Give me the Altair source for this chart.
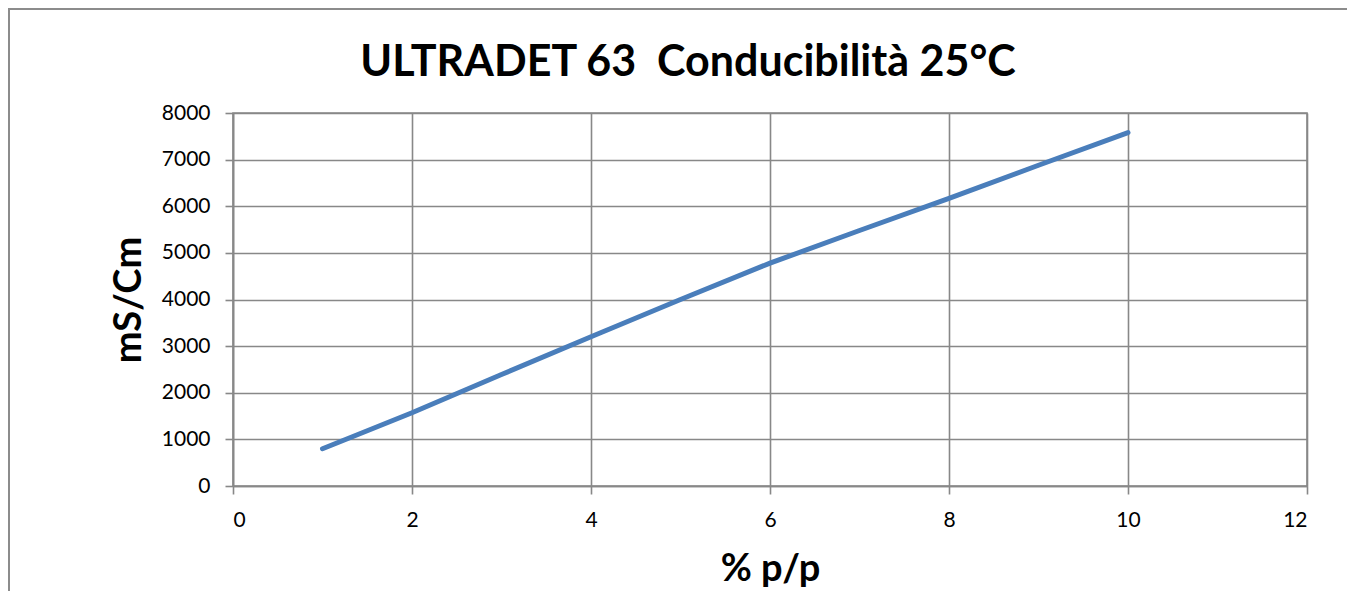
import altair as alt
import pandas as pd

concentration = [1, 2, 3, 4, 5, 6, 7, 8, 9, 10]
conductivity = [800, 1570, 2390, 3200, 4000, 4780, 5480, 6170, 6880, 7580]

title_text = "ULTRADET 63\u00a0 Conducibilità 25°C"
x_title = "% p/p"
y_title = "mS/Cm"

df = pd.DataFrame({"x": concentration, "y": conductivity})

FONT = "Lato"
GRID = "#888888"

line = alt.Chart(df).mark_line(color="#4a7ebb", strokeWidth=5, strokeCap="round").encode(
    x=alt.X("x:Q", scale=alt.Scale(domain=[0, 12], nice=False),
            axis=alt.Axis(title=x_title, values=[0, 2, 4, 6, 8, 10, 12], grid=True, format="d",
                          gridColor=GRID, gridWidth=1.6, domainColor=GRID, domainWidth=1.6,
                          tickColor=GRID, tickWidth=1.6, tickSize=8,
                          labelFont=FONT, labelFontSize=21, labelColor="#000000", labelPadding=15,
                          titleFont=FONT, titleFontSize=38, titleFontWeight="bold",
                          titleColor="#000000", titlePadding=20)),
    y=alt.Y("y:Q", scale=alt.Scale(domain=[0, 8000], nice=False),
            axis=alt.Axis(title=y_title, values=list(range(0, 8001, 1000)), grid=True, format="d",
                          gridColor=GRID, gridWidth=1.6, domainColor=GRID, domainWidth=1.6,
                          tickColor=GRID, tickWidth=1.6, tickSize=8,
                          labelFont=FONT, labelFontSize=21, labelColor="#000000", labelPadding=15,
                          titleFont=FONT, titleFontSize=38, titleFontWeight="bold",
                          titleColor="#000000", titlePadding=13)),
)

border = alt.Chart(df).mark_rect(fill=None, stroke="#8c8c8c", strokeWidth=2).encode(
    x=alt.value(-224), x2=alt.value(1200), y=alt.value(-104), y2=alt.value(600)
)

chart = alt.layer(border, line).properties(
    width=1074, height=373,
    padding={"left": 225, "top": 105, "right": 40, "bottom": 105},
    autosize=alt.AutoSizeParams(type="none"),
    title=alt.TitleParams(title_text, font=FONT, fontSize=43, fontWeight="bold",
                          color="#000000", anchor="middle", offset=-77, frame="group", dx=-82),
).configure_view(stroke=GRID, strokeWidth=1.6)

chart.save("out.html", embed_options={"renderer": "svg", "actions": False})
